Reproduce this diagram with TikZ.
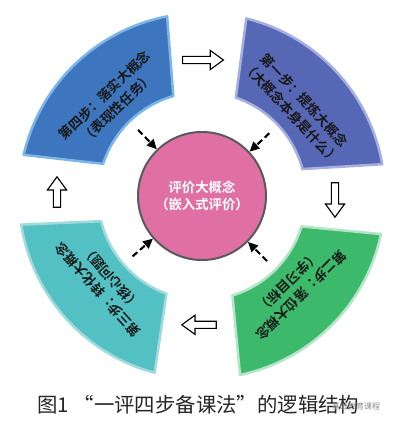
\documentclass[tikz,border=0pt]{standalone}
\usepackage{fontspec}
\usepackage{xcolor}
\usepackage{tikz}
\usetikzlibrary{arrows.meta}

\newfontfamily\cjk{Noto Sans CJK SC}[BoldFont={Noto Sans CJK SC Bold}]

\definecolor{stepone}{HTML}{5667B5}
\definecolor{steponerim}{HTML}{A7AFE0}
\definecolor{steptwo}{HTML}{3DB96B}
\definecolor{steptworim}{HTML}{B6E4C9}
\definecolor{stepthree}{HTML}{53C1C3}
\definecolor{stepthreerim}{HTML}{A0DADC}
\definecolor{stepfour}{HTML}{3E75BF}
\definecolor{stepfourrim}{HTML}{7CB6E7}
\definecolor{evalpink}{HTML}{E070A4}
\definecolor{rimgray}{HTML}{58595B}

\begin{document}
\begin{tikzpicture}[
    every node/.style={font=\cjk},
    sector/.style={line width=1.8pt, line join=round},
    steplabel/.style={align=center, text=black!90,
                      font=\cjk\bfseries\fontsize{9.5}{12.8}\selectfont},
    evalnode/.style={circle, draw=rimgray, line width=1.4pt, fill=evalpink,
                     minimum size=3.2cm, align=center, text=white,
                     font=\cjk\bfseries\fontsize{9.5}{12.2}\selectfont},
    feedarrow/.style={-{Triangle[length=7pt, width=6.5pt]}, line width=1.5pt,
                      dash pattern=on 4.5pt off 2.5pt},
    caption/.style={font=\cjk\fontsize{14.5}{16}\selectfont, text=black!85},
    openarrow/.pic={
      \draw[line width=0.8pt, fill=white, line join=miter]
        (-#1,-0.09) -- ({#1-0.33},-0.09) -- ({#1-0.33},-0.24) -- (#1,0)
        -- ({#1-0.33},0.24) -- ({#1-0.33},0.09) -- (-#1,0.09) -- cycle;
    },
]
\useasboundingbox (-5.05,-5.875) rectangle (4.95,4.9);

% -------- Four steps (ring sectors) --------
% step 1: top right
\filldraw[sector, fill=stepone, draw=steponerim]
  (15:2.6) arc[start angle=15, end angle=71, radius=2.6]
  -- (76:4.575) arc[start angle=76, end angle=10, radius=4.575] -- cycle;
\node[steplabel, rotate=-47] (step1) at (43:3.28)
  {第一步：提炼大概念\\（大概念本身是什么）};

% step 2: bottom right
\filldraw[sector, fill=steptwo, draw=steptworim]
  (-73:2.6) arc[start angle=-73, end angle=-17, radius=2.6]
  -- (-12:4.575) arc[start angle=-12, end angle=-78, radius=4.575] -- cycle;
\node[steplabel, rotate=225] (step2) at (-45:3.28)
  {第二步：落位大概念\\（学习目标）};

% step 3: bottom left
\filldraw[sector, fill=stepthree, draw=stepthreerim]
  (194:2.6) arc[start angle=194, end angle=250, radius=2.6]
  -- (255:4.575) arc[start angle=255, end angle=189, radius=4.575] -- cycle;
\node[steplabel, rotate=132] (step3) at (222:3.28)
  {第三步：转化大概念\\（核心问题）};

% step 4: top left
\filldraw[sector, fill=stepfour, draw=stepfourrim]
  (106:2.6) arc[start angle=106, end angle=162, radius=2.6]
  -- (167:4.575) arc[start angle=167, end angle=101, radius=4.575] -- cycle;
\node[steplabel, rotate=44] (step4) at (134:3.28)
  {第四步：落实大概念\\（表现性任务）};

% -------- Centre: evaluation --------
\node[evalnode] (eval) at (0,0) {评价大概念\\（嵌入式评价）};

% dashed feedback arrows from each step
\foreach \a/\nm in {43/f1, -45/f2, 221/f3, 134/f4}{
  \coordinate (\nm) at (\a:2.3);
  \draw[feedarrow] (\nm) -- (eval);
}

% -------- Open arrows between steps --------
\pic (arrTop)   at (0.025,3.4)    {openarrow=0.51};
\pic (arrRight) at (3.325,-0.1)   [rotate=-90] {openarrow=0.43};
\pic (arrBottom) at (-0.075,-3.22) [rotate=180] {openarrow=0.43};
\pic (arrLeft)  at (-3.625,0.1)   [rotate=90]  {openarrow=0.38};

% -------- Caption --------
\node[caption] (title) at (-0.09,-5.225) {图1\ “一评四步备课法”的逻辑结构};
\node[font=\cjk\fontsize{5.7}{6}\selectfont, text=black!45] (mark)
  at (3.85,-5.25) {基础教育课程};

\end{tikzpicture}
\end{document}
